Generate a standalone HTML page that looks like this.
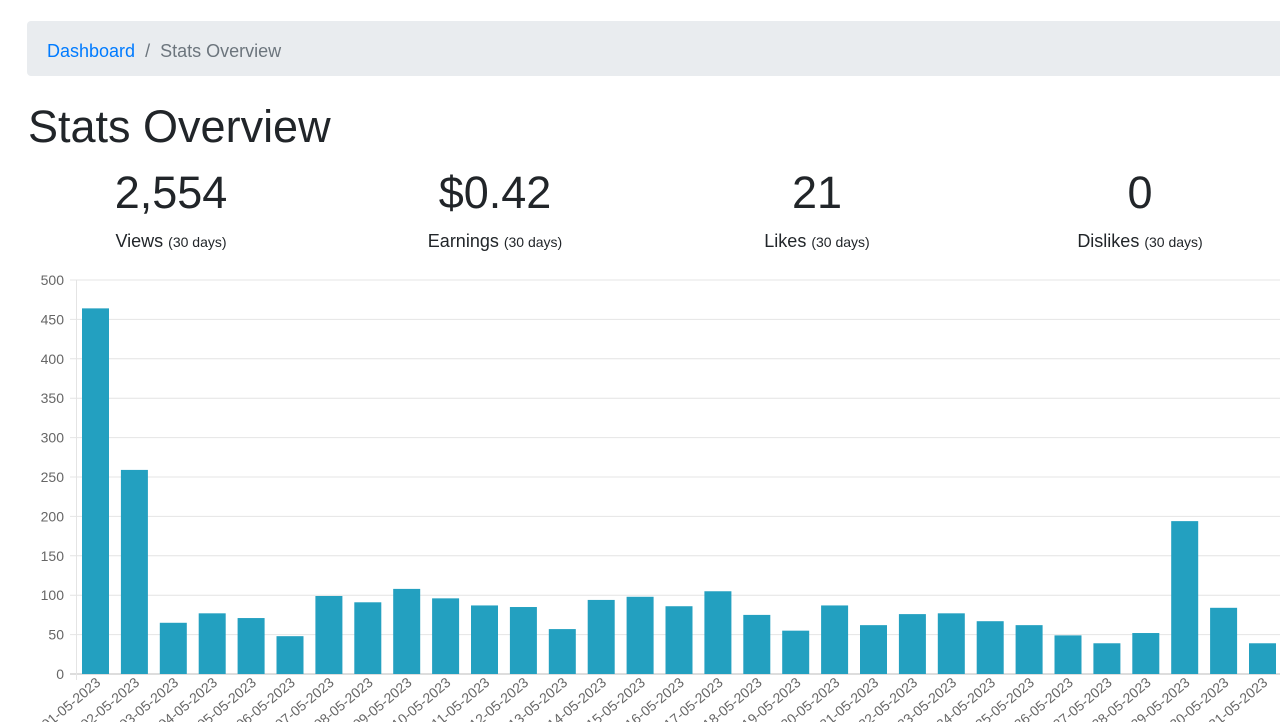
<!DOCTYPE html>
<html><head><meta charset="utf-8"><style>
body{margin:0;width:1280px;height:722px;overflow:hidden;background:#fff;font-family:"Liberation Sans",sans-serif;color:#212529}
.bc{position:absolute;left:27px;top:21px;width:1270px;height:55px;background:#e9ecef;border-radius:4px;font-size:18px;line-height:61px;padding-left:20px;box-sizing:border-box;color:#6c757d}
.bc a{color:#007bff;text-decoration:none}
h1{position:absolute;left:28px;top:100px;margin:0;font-size:45px;font-weight:400;line-height:54px}
.st{position:absolute;top:166px;width:300px;text-align:center}
.st .n{font-size:45px;line-height:54px}
.st .l{font-size:18px;margin-top:11px}
.st .l small{font-size:14px}
</style></head><body>
<div class="bc"><a>Dashboard</a> &nbsp;/&nbsp; Stats Overview</div>
<h1>Stats Overview</h1>
<div class="st" style="left:21px"><div class="n">2,554</div><div class="l">Views <small>(30 days)</small></div></div>
<div class="st" style="left:345px"><div class="n">$0.42</div><div class="l">Earnings <small>(30 days)</small></div></div>
<div class="st" style="left:667px"><div class="n">21</div><div class="l">Likes <small>(30 days)</small></div></div>
<div class="st" style="left:990px"><div class="n">0</div><div class="l">Dislikes <small>(30 days)</small></div></div>
<svg id="c" width="1280" height="722" style="position:absolute;left:0;top:0" font-family="Liberation Sans, sans-serif"></svg>
<script>
var v=[464,259,65,77,71,48,99,91,108,96,87,85,57,94,98,86,105,75,55,87,62,76,77,67,62,49,39,52,194,84,39];
var s='',y0=674,k=0.788;
for(var i=0;i<=10;i++){var y=y0-i*50*k;s+='<line x1="70" x2="1280" y1="'+y+'" y2="'+y+'" stroke="'+(i==0?'#bbb':'#e4e4e4')+'"/><text x="64" y="'+(y+5)+'" text-anchor="end" font-size="14" fill="#666">'+i*50+'</text>';}
s+='<line x1="76.5" x2="76.5" y1="280" y2="680" stroke="#e4e4e4"/>';
for(var i=0;i<31;i++){var cx=95.5+i*38.9,h=v[i]*k;
s+='<rect x="'+(cx-13.5)+'" y="'+(y0-h)+'" width="27" height="'+h+'" fill="#23a0c0"/>';
var d=(i+1<10?'0':'')+(i+1);
s+='<text transform="translate('+(cx+6)+',684) rotate(-40)" text-anchor="end" font-size="14" fill="#666">'+d+'-05-2023</text>';}
document.getElementById('c').innerHTML=s;
</script>
</body></html>
